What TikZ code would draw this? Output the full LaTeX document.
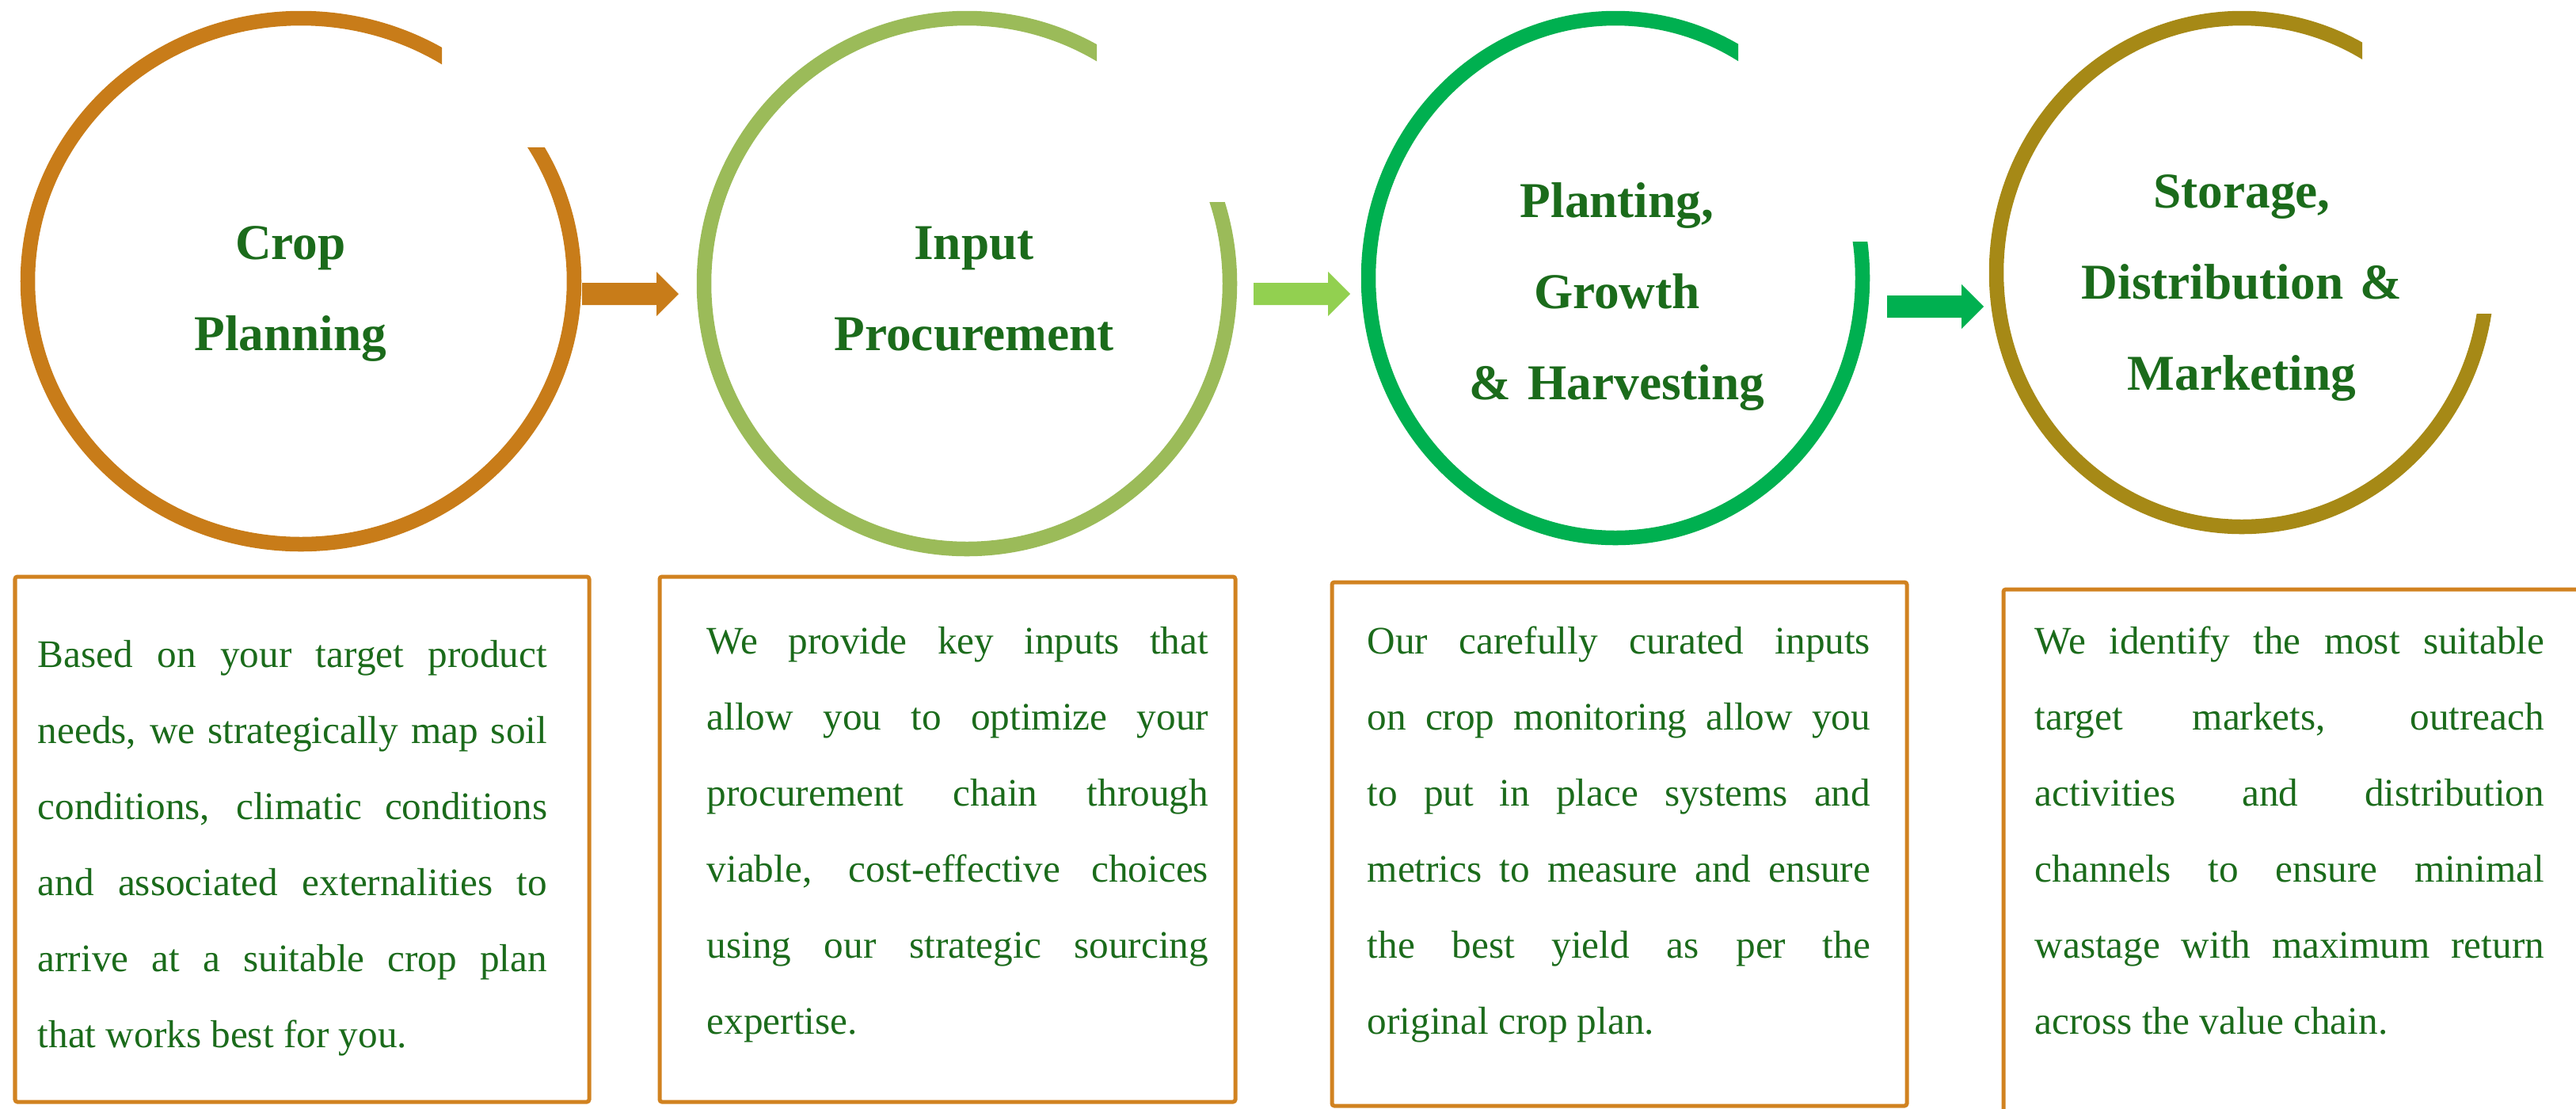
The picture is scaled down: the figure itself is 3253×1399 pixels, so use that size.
\documentclass[tikz,border=0pt]{standalone}
\usepackage{fontspec}
\setmainfont{Liberation Serif}
\definecolor{O}{RGB}{200,124,25}
\definecolor{L}{RGB}{155,187,89}
\definecolor{G}{RGB}{0,176,80}
\definecolor{K}{RGB}{166,137,22}
\definecolor{A}{RGB}{146,208,80}
\definecolor{T}{RGB}{27,107,27}
\definecolor{F}{RGB}{209,130,32}
\tolerance=10000
\hbadness=10000
\tikzset{
  steptitle/.style={text=T, text width=5cm, align=center, inner sep=0pt, anchor=base,
    font={\fontsize{18pt}{32.7pt}\selectfont\bfseries}},
  steptext/.style={text=T, align=justify, inner sep=0pt, anchor=base west,
    font={\fontsize{14pt}{27.3pt}\selectfont}},
  infobox/.style={draw=F, line width=0.05cm, rounded corners=0.03cm},
}

\begin{document}
\begin{tikzpicture}[x=0.01cm,y=-0.01cm]
  \clip (0,0) rectangle (3253,1399);
  % open rings
  \foreach \cx/\cy/\rx/\ry/\gx/\gy/\c in {380/355/345/332/558/186/O, 1221/358/332/335/1385/255/L,
      2040/351/312/328/2195/305/G, 2831/344/310/321/2983/396/K}{
    \begin{scope}
      \clip (\cx-400,\cy+400) -- (\cx+400,\cy+400) -- (\cx+400,\gy) -- (\gx,\gy) -- (\gx,\cy-400) -- (\cx-400,\cy-400) -- cycle;
      \draw[\c, line width=0.185cm] (\cx,\cy) ellipse [x radius=\rx, y radius=\ry];
    \end{scope}
  }
  \node[steptitle] (crop) at (367,327) {Crop\\Planning};
  \node[steptitle] (input) at (1230,327) {Input\\Procurement};
  \node[steptitle] (plant) at (2042,274) {Planting,\\Growth\\\& Harvesting};
  \node[steptitle] (store) at (2831,262) {Storage,\\Distribution \&\\Marketing};
  % block arrows
  \fill[O] (735,357) -- (829,357) -- (829,343) -- (857,371) -- (829,399) -- (829,385) -- (735,385) -- cycle;
  \fill[A] (1583,357) -- (1677,357) -- (1677,343) -- (1705,371) -- (1677,399) -- (1677,385) -- (1583,385) -- cycle;
  \fill[G] (2383,373) -- (2477,373) -- (2477,359) -- (2505,387) -- (2477,415) -- (2477,401) -- (2383,401) -- cycle;
  % text boxes
  \draw[infobox] (19,728) rectangle (744,1391);
  \draw[infobox] (833,728) rectangle (1560,1391);
  \draw[infobox] (1682,735) rectangle (2408,1396);
  \draw[infobox] (2530,744) rectangle (3300,1450);
  \node[steptext, text width=6.43cm] (croptext) at (47,842) {Based on your target product\linebreak
    needs, we strategically map soil\linebreak conditions, climatic conditions\linebreak
    and associated externalities to\linebreak arrive at a suitable crop plan\linebreak
    that works best for you.};
  \node[steptext, text width=6.33cm] (inputtext) at (892,825) {We provide key inputs that\linebreak
    allow you to optimize your\linebreak procurement chain through\linebreak
    viable, cost-effective choices\linebreak using our strategic sourcing\linebreak
    expertise.};
  \node[steptext, text width=6.35cm] (planttext) at (1726,825) {Our carefully curated inputs\linebreak
    on crop monitoring allow you\linebreak to put in place systems and\linebreak
    metrics to measure and ensure\linebreak the best yield as per the\linebreak
    original crop plan.};
  \node[steptext, text width=6.43cm] (storetext) at (2569,825) {We identify the most suitable\linebreak
    target markets, outreach\linebreak activities and distribution\linebreak
    channels to ensure minimal\linebreak wastage with maximum return\linebreak
    across the value chain.};
\end{tikzpicture}
\end{document}
